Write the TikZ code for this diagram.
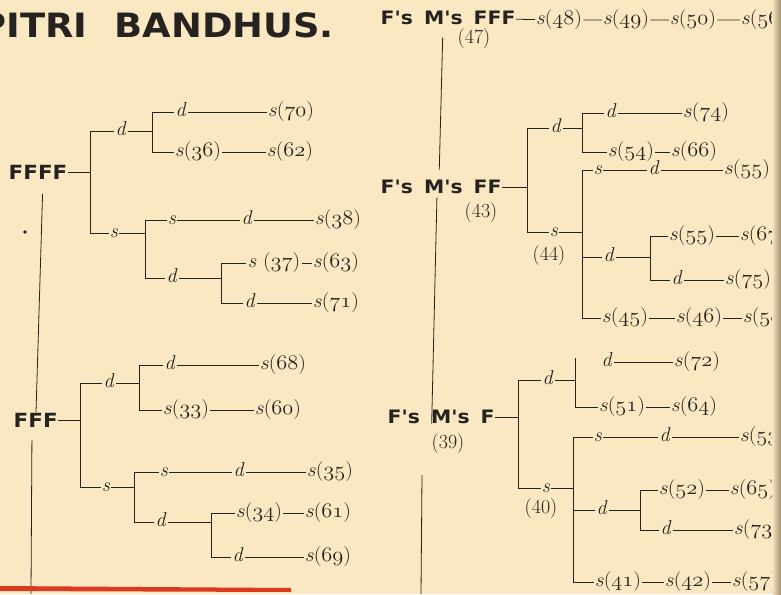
\documentclass[tikz,border=0pt]{standalone}
\usepackage{fontspec}
\usepackage{tikz}
\usetikzlibrary{calc}
\newfontfamily\hdfont[FakeStretch=1.1]{DejaVu Sans}
\definecolor{paper}{HTML}{FAE8C3}
\definecolor{ink}{HTML}{262220}
\definecolor{rulered}{HTML}{D93A20}
\definecolor{gutter}{HTML}{9E8F6E}
\newcommand\olddig[1]{{\fontencoding{OML}\fontfamily{lmm}\fontseries{m}\fontshape{it}\selectfont #1}}
\newcommand\sgen[1]{\scalebox{1.08}[1]{\textit{s}(\olddig{#1})}}
\newcommand\dd{\textit{d}}
\tikzset{
  lbl/.style={font=\fontsize{20}{22}\selectfont, text=ink, inner sep=1pt,
              text height=14pt, text depth=4.8pt},
  hd/.style={font=\hdfont\bfseries\fontsize{#1}{#1}\selectfont, text=ink,
             inner sep=0.5pt, text height={0.73*#1pt}, text depth=0pt, anchor=west},
  ln/.style={draw=ink, line width=0.8pt},
  brk/.style={draw=ink, line width=0.8pt},
}

\begin{document}
\begin{tikzpicture}[x=1pt,y=-1pt]
  \useasboundingbox (0,0) rectangle (781,594);
  \fill[paper] (0,0) rectangle (781,594);
  \clip (0,0) rectangle (781,594);

  % title
  \node[hd=33.5] (title) at (-21,25) {PITRI\hspace{27pt}BANDHUS.};

  % brackets
  \coordinate (b1) at (90,131);   \coordinate (b1e) at (90,233);
  \coordinate (b2) at (152,112);  \coordinate (b2e) at (152,152);
  \coordinate (b3) at (145,220);  \coordinate (b3e) at (145,278);
  \coordinate (b4) at (221,263);  \coordinate (b4e) at (221,303);
  \coordinate (b5) at (80,383);   \coordinate (b5e) at (80,487);
  \coordinate (b6) at (139,365);  \coordinate (b6e) at (139,410);
  \coordinate (b7) at (134,472);  \coordinate (b7e) at (134,522);
  \coordinate (b8) at (211,513);  \coordinate (b8e) at (211,557);
  \coordinate (b9) at (527,128);  \coordinate (b9e) at (527,232);
  \coordinate (b10) at (582,113); \coordinate (b10e) at (582,152);
  \coordinate (b11) at (582,170); \coordinate (b11e) at (582,318);
  \coordinate (b12) at (650,236); \coordinate (b12e) at (650,280);
  \coordinate (b13) at (518,380); \coordinate (b13e) at (518,488);
  \coordinate (b14) at (575,358); \coordinate (b14e) at (575,407);
  \coordinate (b15) at (573,437); \coordinate (b15e) at (573,582);
  \coordinate (b16) at (640,490); \coordinate (b16e) at (640,530);
  \foreach \b in {b1,b2,b3,b4,b5,b6,b7,b8,b9,b10,b11,b12,b13,b14,b15,b16}
    \draw[brk] (\b) -- (\b e);

  % FFFF
  \node[hd=19.5] (ffff) at (8,172) {FFFF};
  \draw[ln] (ffff) -- (ffff -| b1);
  \node[lbl] (d1) at (121,131) {\dd};
  \draw[ln] (b1) -- (d1) -- (d1 -| b2);
  \node[lbl] (d70) at (181,112) {\dd};
  \node[lbl] (s70) at (291,112) {\sgen{70}};
  \draw[ln] (b2) -- (d70) -- (s70);
  \node[lbl] (s36) at (198,152) {\sgen{36}};
  \node[lbl] (s62) at (290,152) {\sgen{62}};
  \draw[ln] (b2e) -- (s36) -- (s62);
  \node[lbl] (s1) at (114,233) {\textit{s}};
  \draw[ln] (b1e) -- (s1) -- (s1 -| b3);
  \node[lbl] (s2) at (172,220) {\textit{s}};
  \node[lbl] (d2) at (247,220) {\dd};
  \node[lbl] (s38) at (338,220) {\sgen{38}};
  \draw[ln] (b3) -- (s2) -- (d2) -- (s38);
  \node[lbl] (d3) at (172,278) {\dd};
  \draw[ln] (b3e) -- (d3) -- (d3 -| b4);
  \node[lbl] (s37) at (274,263) {\scalebox{1.08}[1]{\textit{s} (\olddig{37})}};
  \node[lbl] (s63) at (336,263) {\sgen{63}};
  \draw[ln] (b4) -- (s37) -- (s63);
  \node[lbl] (d4) at (250,303) {\dd};
  \node[lbl] (s71) at (336,303) {\sgen{71}};
  \draw[ln] (b4e) -- (d4) -- (s71);

  % FFF
  \node[hd=19.5] (fff) at (13,420) {FFF};
  \draw[ln, shorten <=14pt] ([xshift=35pt]ffff.south west) -- ([xshift=23pt]fff.north west);
  \coordinate (foot1) at (31,594);
  \draw[ln, shorten <=12pt] ([xshift=19pt]fff.south west) -- (foot1);
  \fill[ink] (25,232) circle (1.8);
  \draw[ln] (fff) -- (fff -| b5);
  \node[lbl] (d5) at (109,383) {\dd};
  \draw[ln] (b5) -- (d5) -- (d5 -| b6);
  \node[lbl] (d6) at (170,365) {\dd};
  \node[lbl] (s68) at (283,365) {\sgen{68}};
  \draw[ln] (b6) -- (d6) -- (s68);
  \node[lbl] (s33) at (186,410) {\sgen{33}};
  \node[lbl] (s60) at (278,410) {\sgen{60}};
  \draw[ln] (b6e) -- (s33) -- (s60);
  \node[lbl] (s5) at (106,487) {\textit{s}};
  \draw[ln] (b5e) -- (s5) -- (s5 -| b7);
  \node[lbl] (s6) at (164,472) {\textit{s}};
  \node[lbl] (d7) at (239,472) {\dd};
  \node[lbl] (s35) at (330,472) {\sgen{35}};
  \draw[ln] (b7) -- (s6) -- (d7) -- (s35);
  \node[lbl] (d8) at (161,522) {\dd};
  \draw[ln] (b7e) -- (d8) -- (d8 -| b8);
  \node[lbl] (s34) at (259,513) {\sgen{34}};
  \node[lbl] (s61) at (328,513) {\sgen{61}};
  \draw[ln] (b8) -- (s34) -- (s61);
  \node[lbl] (d9) at (238,557) {\dd};
  \node[lbl] (s69) at (328,557) {\sgen{69}};
  \draw[ln] (b8e) -- (d9) -- (s69);

  % red rule
  \fill[rulered] (0,586) -- (291,588) -- (291,592) -- (0,591) -- cycle;

  % F's M's FFF
  \node[hd=18.5] (fff2) at (380,18) {F's\hspace{0.6em}M's\hspace{0.6em}FFF};
  \node[lbl] (n47) at (474,39) {(47)};
  \node[lbl] (s48) at (559,20) {\sgen{48}};
  \node[lbl] (s49) at (626,20) {\sgen{49}};
  \node[lbl] (s50) at (693,20) {\sgen{50}};
  \node[lbl] (s56) at (764,20) {\sgen{56}};
  \draw[ln] (fff2) -- (s48) -- (s49) -- (s50) -- (s56);

  % F's M's FF
  \node[hd=18.5] (ff2) at (380,187) {F's\hspace{0.6em}M's\hspace{0.6em}FF};
  \node[lbl] (n43) at (481,213) {(43)};
  \draw[ln, shorten <=12pt, shorten >=10pt] ([xshift=63pt]fff2.south west) -- ([xshift=59pt]ff2.north west);
  \draw[ln] (ff2) -- (ff2 -| b9);
  \node[lbl] (d10) at (556,128) {\dd};
  \draw[ln] (b9) -- (d10) -- (d10 -| b10);
  \node[lbl] (d11) at (611,113) {\dd};
  \node[lbl] (s74) at (706,113) {\sgen{74}};
  \draw[ln] (b10) -- (d11) -- (s74);
  \node[lbl] (s54) at (631,152) {\sgen{54}};
  \node[lbl] (s66) at (694,152) {\sgen{66}};
  \draw[ln] (b10e) -- (s54) -- (s66);
  \node[lbl] (s10) at (554,232) {\textit{s}};
  \node[lbl] (n44) at (549,256) {(44)};
  \draw[ln] (b9e) -- (s10) -- (s10 -| b11);
  \node[lbl] (s11) at (598,170) {\textit{s}};
  \node[lbl] (d12) at (654,170) {\dd};
  \node[lbl] (s55a) at (747,170) {\sgen{55}};
  \draw[ln] (b11) -- (s11) -- (d12) -- (s55a);
  \node[lbl] (d13) at (609,257) {\dd};
  \draw[ln] (d13 -| b11) -- (d13) -- (d13 -| b12);
  \node[lbl] (s55b) at (692,236) {\sgen{55}};
  \node[lbl] (s67) at (763,236) {\sgen{67}};
  \draw[ln] (b12) -- (s55b) -- (s67);
  \node[lbl] (d14) at (677,280) {\dd};
  \node[lbl] (s75) at (748,280) {\sgen{75}};
  \draw[ln] (b12e) -- (d14) -- (s75);
  \node[lbl] (s45) at (625,318) {\sgen{45}};
  \node[lbl] (s46) at (699,318) {\sgen{46}};
  \node[lbl] (s58) at (766,318) {\sgen{58}};
  \draw[ln] (b11e) -- (s45) -- (s46) -- (s58);

  % F's M's F
  \node[hd=18.5] (f2) at (387,417) {F's\hspace{0.6em}M's\hspace{0.6em}F};
  \node[lbl] (n39) at (448,444) {(39)};
  \draw[ln, shorten <=3pt, shorten >=-14pt] ([xshift=57pt]ff2.south west) -- ([xshift=45pt]f2.north west);
  \coordinate (v3) at (422,475);
  \coordinate (foot2) at (421,594);
  \draw[ln] (v3) -- (foot2);
  \draw[ln] (f2) -- (f2 -| b13);
  \node[lbl] (d15) at (548,380) {\dd};
  \draw[ln] (b13) -- (d15) -- (d15 -| b14);
  \node[lbl] (d16) at (607,362) {\dd};
  \node[lbl] (s72) at (697,362) {\sgen{72}};
  \draw[ln] (d16) -- (s72);
  \node[lbl] (s51) at (622,407) {\sgen{51}};
  \node[lbl] (s64) at (694,407) {\sgen{64}};
  \draw[ln] (b14e) -- (s51) -- (s64);
  \node[lbl] (s15) at (546,488) {\textit{s}};
  \node[lbl] (n40) at (541,509) {(40)};
  \draw[ln] (b13e) -- (s15) -- (s15 -| b15);
  \node[lbl] (s16) at (598,437) {\textit{s}};
  \node[lbl] (d17) at (665,437) {\dd};
  \node[lbl] (s53) at (763,437) {\sgen{53}};
  \draw[ln] (b15) -- (s16) -- (d17) -- (s53);
  \node[lbl] (d18) at (602,510) {\dd};
  \draw[ln] (d18 -| b15) -- (d18) -- (d18 -| b16);
  \node[lbl] (s52) at (682,490) {\sgen{52}};
  \node[lbl] (s65) at (753,490) {\sgen{65}};
  \draw[ln] (b16) -- (s52) -- (s65);
  \node[lbl] (d19) at (666,530) {\dd};
  \node[lbl] (s73) at (757,530) {\sgen{73}};
  \draw[ln] (b16e) -- (d19) -- (s73);
  \node[lbl] (s41) at (618,582) {\sgen{41}};
  \node[lbl] (s42) at (688,582) {\sgen{42}};
  \node[lbl] (s57) at (755,582) {\sgen{57}};
  \draw[ln] (b15e) -- (s41) -- (s42) -- (s57);

  % gutter
  \shade[left color=paper, right color=gutter] (772,0) rectangle (781,594);
\end{tikzpicture}
\end{document}
